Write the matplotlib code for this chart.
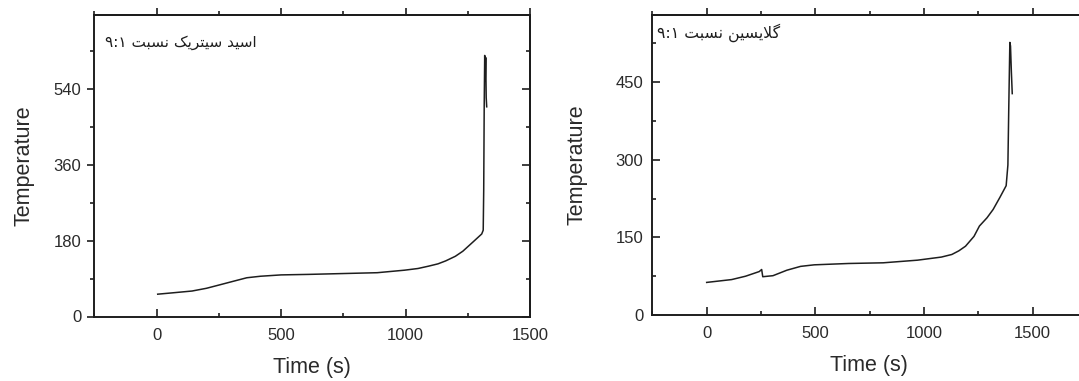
import matplotlib
matplotlib.use("Agg")
import matplotlib.pyplot as plt
from matplotlib.ticker import MultipleLocator

# ---------------- data ----------------
time_left = [4, 60, 142, 200, 252, 310, 362, 417, 500, 610, 748, 886, 996, 1050,
             1092, 1130, 1161, 1200, 1230, 1271, 1306, 1312, 1314, 1316, 1318,
             1320, 1322, 1324, 1326]
temp_left = [53, 56, 60.5, 67, 75, 84, 92, 95.6, 98.8, 100, 102, 104, 110, 114,
             119.5, 125, 132, 143, 155, 177, 196, 205, 300, 500, 620, 560, 615,
             520, 498]

time_right = [0, 115, 179, 242, 253, 258, 305, 369, 432, 495, 653, 812, 970, 1080,
              1128, 1160, 1191, 1230, 1255, 1290, 1318, 1350, 1378, 1386, 1390,
              1395, 1398, 1402, 1406]
temp_right = [63, 68.5, 75, 84, 88, 74, 76, 86.6, 94, 97, 99.6, 100.9, 106, 112,
              117, 124, 133, 152, 172, 188, 204, 228, 250, 290, 400, 527, 520,
              470, 428]

label_left = "اسید سیتریک نسبت ۹:۱"
label_right = "گلایسین نسبت ۹:۱"
xlabel = "Time (s)"
ylabel = "Temperature"

# ---------------- minimal Persian shaping for display ----------------
FORMS = {
    'ا': ('\uFE8D', '\uFE8E', None, None),
    'د': ('\uFEA9', '\uFEAA', None, None),
    'ر': ('\uFEAD', '\uFEAE', None, None),
    'س': ('\uFEB1', '\uFEB2', '\uFEB3', '\uFEB4'),
    'ی': ('\uFBFC', '\uFBFD', '\uFBFE', '\uFBFF'),
    'ت': ('\uFE95', '\uFE96', '\uFE97', '\uFE98'),
    'ک': ('\uFB8E', '\uFB8F', '\uFB90', '\uFB91'),
    'ن': ('\uFEE5', '\uFEE6', '\uFEE7', '\uFEE8'),
    'ب': ('\uFE8F', '\uFE90', '\uFE91', '\uFE92'),
    'گ': ('\uFB92', '\uFB93', '\uFB94', '\uFB95'),
    'ل': ('\uFEDD', '\uFEDE', '\uFEDF', '\uFEE0'),
    'LA': ('\uFEFB', '\uFEFC', None, None),
}


def shape_word(word):
    toks = []
    i = 0
    while i < len(word):
        if word[i] == 'ل' and i + 1 < len(word) and word[i + 1] == 'ا':
            toks.append('LA')
            i += 2
        else:
            toks.append(word[i])
            i += 1
    if not all(t in FORMS for t in toks):
        return word  # numbers etc. stay left-to-right
    out = []
    for k, t in enumerate(toks):
        f = FORMS[t]
        jp = k > 0 and FORMS[toks[k - 1]][2] is not None
        jn = f[2] is not None and k + 1 < len(toks)
        if jp and jn:
            g = f[3]
        elif jp:
            g = f[1]
        elif jn:
            g = f[2]
        else:
            g = f[0]
        out.append(g)
    return ''.join(reversed(out))


def visual(text):
    return ' '.join(shape_word(w) for w in reversed(text.split(' ')))


# ---------------- figure ----------------
W, H = 1079, 381
fig = plt.figure(figsize=(W / 100, H / 100), dpi=100)
plt.rcParams['font.family'] = ['Liberation Sans', 'DejaVu Sans']

ink = '#1e1e1e'
txt = '#2a2a2a'


def px_axes(x0, x1, ytop, ybot):
    return fig.add_axes([x0 / W, 1 - ybot / H, (x1 - x0) / W, (ybot - ytop) / H])


def style(ax, xlim, ylim, ymaj, ymin, ydir):
    ax.set_xlim(*xlim)
    ax.set_ylim(*ylim)
    ax.xaxis.set_major_locator(MultipleLocator(500))
    ax.xaxis.set_minor_locator(MultipleLocator(250))
    ax.yaxis.set_major_locator(MultipleLocator(ymaj))
    ax.yaxis.set_minor_locator(MultipleLocator(ymin))
    for s in ax.spines.values():
        s.set_linewidth(1.4)
        s.set_color(ink)
    ax.tick_params(which='both', direction='in', top=False, right=True,
                   color=ink, width=1.2, labelsize=12, labelcolor=txt)
    ax.tick_params(which='major', length=6)
    ax.tick_params(which='minor', length=3)
    ax.tick_params(axis='x', which='major', pad=8)
    ax.tick_params(axis='y', which='both', direction=ydir, right=False)
    ax.tick_params(axis='y', which='major', pad=4 if ydir == 'out' else 6,
                   length=5 if ydir == 'out' else 6)
    # right edge ticks point inward
    sr = ax.secondary_yaxis('right')
    sr.yaxis.set_major_locator(MultipleLocator(ymaj))
    sr.yaxis.set_minor_locator(MultipleLocator(ymin))
    sr.tick_params(which='both', direction='in', labelright=False,
                   color=ink, width=1.2)
    sr.tick_params(which='major', length=6)
    sr.tick_params(which='minor', length=3)
    sr.spines['right'].set_linewidth(1.4)
    # outward ticks on the top edge
    sec = ax.secondary_xaxis('top')
    sec.xaxis.set_major_locator(MultipleLocator(500))
    sec.xaxis.set_minor_locator(MultipleLocator(250))
    sec.tick_params(which='both', direction='out', labeltop=False,
                    color=ink, width=1.2)
    sec.tick_params(which='major', length=5)
    sec.tick_params(which='minor', length=3)
    sec.spines['top'].set_linewidth(1.4)


# left panel
ax1 = px_axes(94, 530, 15, 316.5)
style(ax1, (-252, 1500), (0, 716), 180, 90, 'out')
ax1.plot(time_left, temp_left, color=ink, lw=1.1)
ax1.set_xlabel(xlabel, fontsize=15.5, color=txt, labelpad=10)
ax1.set_ylabel(ylabel, fontsize=15.5, color=txt, labelpad=14)
ax1.text(0.026, 0.91, visual(label_left), transform=ax1.transAxes,
         family=['DejaVu Sans'], fontsize=11, ha='left', va='center', color=ink)

# right panel (extends past the figure edge)
ax2 = px_axes(651.7, 1087, 15, 315)
style(ax2, (-253, 1750), (0, 580), 150, 75, 'in')
ax2.plot(time_right, temp_right, color=ink, lw=1.1)
ax2.set_xlabel(xlabel, fontsize=15.5, color=txt, labelpad=10)
ax2.set_ylabel(ylabel, fontsize=15.5, color=txt, labelpad=20)
ax2.text(0.012, 0.94, visual(label_right), transform=ax2.transAxes,
         family=['DejaVu Sans'], fontsize=11.3, ha='left', va='center', color=ink)

fig.savefig('out.png', dpi=100)
